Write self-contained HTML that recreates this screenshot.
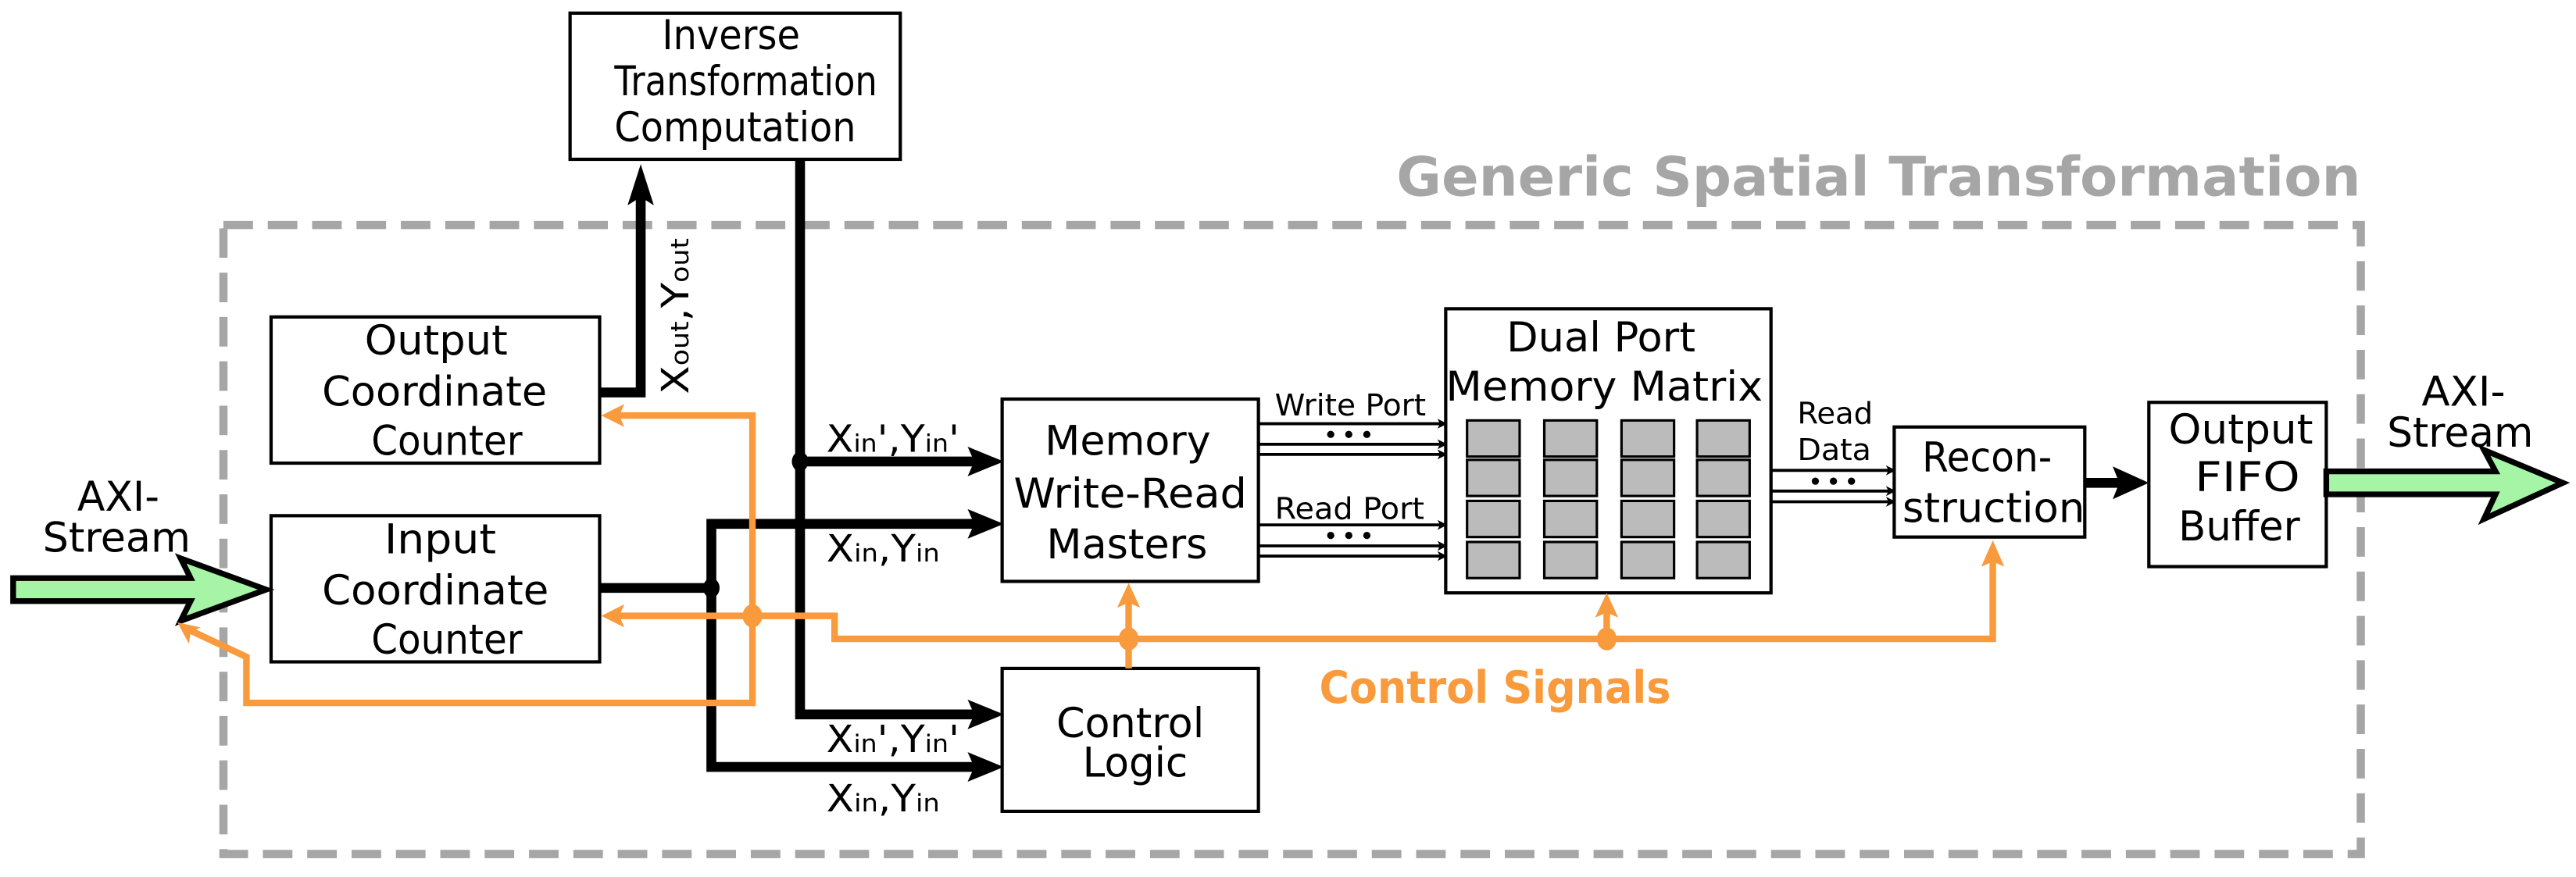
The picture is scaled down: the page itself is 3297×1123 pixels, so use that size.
<!DOCTYPE html>
<html><head><meta charset="utf-8"><style>
html,body{margin:0;padding:0;background:#fff;}
svg{display:block;}
text{font-family:"DejaVu Sans","Liberation Sans",sans-serif;fill:#000;}
</style></head><body>
<svg width="3297" height="1123" viewBox="0 0 1568 534" preserveAspectRatio="none" xmlns="http://www.w3.org/2000/svg">
<defs>
<marker id="ab" markerWidth="6" markerHeight="6" refX="5" refY="3" orient="auto" markerUnits="userSpaceOnUse" viewBox="0 0 6 6"><path d="M0,0 L6,3 L0,6 L1.5,3 Z" fill="#000"/></marker>
</defs>
<rect width="1568" height="534" fill="#fff"/>
<rect x="136" y="137" width="1301" height="383" fill="none" stroke="#a6a6a6" stroke-width="5" stroke-dasharray="18,9"/>
<text x="850" y="119" font-size="33" font-weight="bold" textLength="587" lengthAdjust="spacingAndGlyphs" style="fill:#a6a6a6">Generic Spatial Transformation</text>

<g fill="#fff" stroke="#000" stroke-width="2">
<rect x="347" y="8" width="201" height="89"/>
<rect x="165" y="193" width="200" height="89"/>
<rect x="165" y="314" width="200" height="89"/>
<rect x="610" y="243" width="156" height="111"/>
<rect x="610" y="407" width="156" height="87"/>
<rect x="880" y="188" width="198" height="173"/>
<rect x="1153" y="260" width="116" height="67"/>
<rect x="1308" y="245" width="108" height="100"/>
</g>
<g font-size="25" lengthAdjust="spacingAndGlyphs">
<text x="403" y="30" textLength="84" lengthAdjust="spacingAndGlyphs">Inverse</text>
<text x="374" y="58" textLength="160" lengthAdjust="spacingAndGlyphs">Transformation</text>
<text x="374" y="86" textLength="147" lengthAdjust="spacingAndGlyphs">Computation</text>
<text x="222" y="216" textLength="87" lengthAdjust="spacingAndGlyphs">Output</text>
<text x="196" y="247" textLength="137" lengthAdjust="spacingAndGlyphs">Coordinate</text>
<text x="226" y="277" textLength="92" lengthAdjust="spacingAndGlyphs">Counter</text>
<text x="234" y="337" textLength="68" lengthAdjust="spacingAndGlyphs">Input</text>
<text x="196" y="368" textLength="138" lengthAdjust="spacingAndGlyphs">Coordinate</text>
<text x="226" y="398" textLength="92" lengthAdjust="spacingAndGlyphs">Counter</text>
<text x="636" y="277" textLength="101" lengthAdjust="spacingAndGlyphs">Memory</text>
<text x="617" y="309" textLength="142" lengthAdjust="spacingAndGlyphs">Write-Read</text>
<text x="637" y="340" textLength="98" lengthAdjust="spacingAndGlyphs">Masters</text>
<text x="643" y="449" textLength="90" lengthAdjust="spacingAndGlyphs">Control</text>
<text x="659" y="473" textLength="64" lengthAdjust="spacingAndGlyphs">Logic</text>
<text x="917" y="214" textLength="115" lengthAdjust="spacingAndGlyphs">Dual Port</text>
<text x="880" y="244" textLength="193" lengthAdjust="spacingAndGlyphs">Memory Matrix</text>
<text x="1170" y="287" textLength="79" lengthAdjust="spacingAndGlyphs">Recon-</text>
<text x="1158" y="318" textLength="111" lengthAdjust="spacingAndGlyphs">struction</text>
<text x="1320" y="270" textLength="88" lengthAdjust="spacingAndGlyphs">Output</text>
<text x="1336" y="299" textLength="64" lengthAdjust="spacingAndGlyphs">FIFO</text>
<text x="1326" y="329" textLength="74" lengthAdjust="spacingAndGlyphs">Buffer</text>
<text x="47" y="311" textLength="50" lengthAdjust="spacingAndGlyphs">AXI-</text>
<text x="26" y="336" textLength="90" lengthAdjust="spacingAndGlyphs">Stream</text>
<text x="1474" y="247" textLength="51" lengthAdjust="spacingAndGlyphs">AXI-</text>
<text x="1453" y="272" textLength="89" lengthAdjust="spacingAndGlyphs">Stream</text>
</g>
<g fill="#bbb" stroke="#000" stroke-width="1.5">
<rect x="893" y="256" width="32" height="22"/><rect x="940" y="256" width="32" height="22"/><rect x="987" y="256" width="32" height="22"/><rect x="1033" y="256" width="32" height="22"/>
<rect x="893" y="280" width="32" height="22"/><rect x="940" y="280" width="32" height="22"/><rect x="987" y="280" width="32" height="22"/><rect x="1033" y="280" width="32" height="22"/>
<rect x="893" y="305" width="32" height="22"/><rect x="940" y="305" width="32" height="22"/><rect x="987" y="305" width="32" height="22"/><rect x="1033" y="305" width="32" height="22"/>
<rect x="893" y="330" width="32" height="22"/><rect x="940" y="330" width="32" height="22"/><rect x="987" y="330" width="32" height="22"/><rect x="1033" y="330" width="32" height="22"/>
</g>

<path d="M8,352 L116,352 L110,340 L162,359 L110,378 L116,366 L8,366 Z" fill="#a6f5a6" stroke="#000" stroke-width="3.5"/>
<path d="M1416,287 L1519,287 L1512,274 L1560,294 L1512,316 L1519,301 L1416,301 Z" fill="#a6f5a6" stroke="#000" stroke-width="3.5"/>

<g fill="none" stroke="#000" stroke-width="6">
<polyline points="365,239 390,239 390,118"/>
<polyline points="487,97 487,435 598,435"/>
<line x1="487" y1="281" x2="598" y2="281"/>
<line x1="365" y1="358" x2="433" y2="358"/>
<polyline points="598,319 433,319 433,467 598,467"/>
<line x1="1269" y1="294" x2="1290" y2="294"/>
</g>
<g fill="#000">
<path d="M390,100 L398,125 L390,120 L382,125 Z"/>
<path d="M611,281 L589,272 L593,281 L589,290 Z"/>
<path d="M611,319 L589,310 L593,319 L589,328 Z"/>
<path d="M611,435 L589,426 L593,435 L589,444 Z"/>
<path d="M611,467 L589,458 L593,467 L589,476 Z"/>
<path d="M1308,294 L1286,284 L1290,294 L1286,304 Z"/>
<ellipse cx="487" cy="281" rx="5" ry="6"/>
<ellipse cx="433" cy="358" rx="5" ry="6"/>
</g>
<text transform="translate(419,240) rotate(-90)" font-size="23" textLength="95" lengthAdjust="spacingAndGlyphs">X<tspan font-size="15">out</tspan>,Y<tspan font-size="15">out</tspan></text>
<g font-size="23">
<text x="503" y="275" textLength="81" lengthAdjust="spacingAndGlyphs">X<tspan font-size="15">in</tspan>',Y<tspan font-size="15">in</tspan>'</text>
<text x="503" y="342" textLength="69" lengthAdjust="spacingAndGlyphs">X<tspan font-size="15">in</tspan>,Y<tspan font-size="15">in</tspan></text>
<text x="503" y="458" textLength="81" lengthAdjust="spacingAndGlyphs">X<tspan font-size="15">in</tspan>',Y<tspan font-size="15">in</tspan>'</text>
<text x="503" y="494" textLength="69" lengthAdjust="spacingAndGlyphs">X<tspan font-size="15">in</tspan>,Y<tspan font-size="15">in</tspan></text>
</g>

<g stroke="#000" stroke-width="1.8" marker-end="url(#ab)">
<line x1="766" y1="258" x2="880" y2="258"/><line x1="766" y1="270.5" x2="880" y2="270.5"/><line x1="766" y1="276.7" x2="880" y2="276.7"/>
<line x1="766" y1="319.6" x2="880" y2="319.6"/><line x1="766" y1="332.4" x2="880" y2="332.4"/><line x1="766" y1="338.6" x2="880" y2="338.6"/>
<line x1="1078" y1="286.4" x2="1153" y2="286.4"/><line x1="1078" y1="299" x2="1153" y2="299"/><line x1="1078" y1="305.5" x2="1153" y2="305.5"/>
</g>
<g fill="#000">
<circle cx="810" cy="264.5" r="2.2"/><circle cx="821" cy="264.5" r="2.2"/><circle cx="832" cy="264.5" r="2.2"/>
<circle cx="810" cy="326" r="2.2"/><circle cx="821" cy="326" r="2.2"/><circle cx="832" cy="326" r="2.2"/>
<circle cx="1105" cy="293" r="2.2"/><circle cx="1116" cy="293" r="2.2"/><circle cx="1127" cy="293" r="2.2"/>
</g>
<g font-size="18">
<text x="776" y="253" textLength="92" lengthAdjust="spacingAndGlyphs">Write Port</text>
<text x="776" y="316" textLength="91" lengthAdjust="spacingAndGlyphs">Read Port</text>
<text x="1094" y="258" textLength="46" lengthAdjust="spacingAndGlyphs">Read</text>
<text x="1094" y="280" textLength="45" lengthAdjust="spacingAndGlyphs">Data</text>
</g>

<g fill="none" stroke="#f99a3c" stroke-width="4">
<polyline points="372,253 458,253 458,428 150,428 150,400 114,383"/>
<polyline points="372,375 508,375 508,389 1213,389 1213,342"/>
<line x1="687" y1="407" x2="687" y2="365"/>
<line x1="978" y1="389" x2="978" y2="372"/>
</g>
<g fill="#f99a3c">
<path d="M366,253 L380,246 L377,253 L380,260 Z"/>
<path d="M366,375 L380,368 L377,375 L380,382 Z"/>
<path d="M108,379 L122,382 L116,385 L115,392 Z"/>
<path d="M687,355 L694,370 L687,367 L680,370 Z"/>
<path d="M978,361 L985,376 L978,373 L971,376 Z"/>
<path d="M1213,329 L1220,345 L1213,342 L1206,345 Z"/>
<ellipse cx="458" cy="375" rx="6" ry="7"/>
<ellipse cx="687" cy="389" rx="6" ry="7"/>
<ellipse cx="978" cy="389" rx="6" ry="7"/>
</g>
<text x="803" y="428" font-size="27" font-weight="bold" textLength="214" lengthAdjust="spacingAndGlyphs" style="fill:#f99a3c">Control Signals</text>
</svg>
</body></html>
